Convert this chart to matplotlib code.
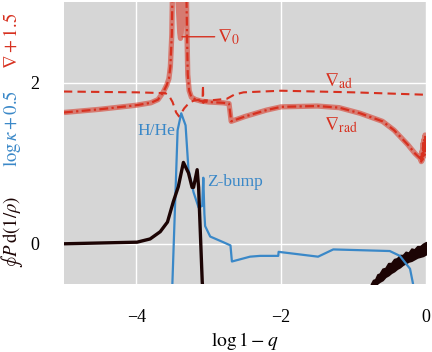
import matplotlib
matplotlib.use("Agg")
import matplotlib.pyplot as plt

plt.rcParams['font.family'] = ['Liberation Serif', 'DejaVu Serif']
plt.rcParams['mathtext.fontset'] = 'stix'

# --- data ---
# nabla_rad + 1.5
rad_x = [-5.0, -4.5, -4.0, -3.8, -3.7, -3.63, -3.58, -3.55, -3.53, -3.51, -3.50, -3.47, -3.40,
         -3.34, -3.31, -3.30, -3.29, -3.27, -3.24, -3.18, -3.1, -3.0, -2.8, -2.72, -2.69,
         -2.5, -2.2, -2.0, -1.5, -1.2, -0.91, -0.6, -0.44, -0.25, -0.15, -0.08,
         -0.07, -0.065, -0.055, -0.05, -0.04, -0.035, -0.025, -0.02, -0.012, -0.006, 0.0]
rad_y = [1.63, 1.67, 1.72, 1.75, 1.79, 1.88, 1.97, 2.05, 2.2, 2.6, 3.2, 4.2, 5.0,
         4.2, 3.2, 2.6, 2.1, 1.9, 1.82, 1.79, 1.77, 1.76, 1.75, 1.74, 1.52,
         1.58, 1.66, 1.70, 1.71, 1.69, 1.62, 1.52, 1.41, 1.23, 1.12, 1.06,
         1.10, 1.02, 1.15, 1.04, 1.25, 1.08, 1.30, 1.10, 1.35, 1.15, 1.35]

# nabla_0 + 1.5 (differs from nabla_rad only inside the peak)
n0_x = [-5.0, -4.5, -4.0, -3.8, -3.7, -3.63, -3.58, -3.55, -3.53, -3.51, -3.50, -3.46, -3.43,
        -3.40, -3.39, -3.38, -3.35, -3.33, -3.31, -3.30, -3.29, -3.27, -3.24, -3.18, -3.1,
        -3.0, -2.8, -2.72, -2.69, -2.5, -2.2, -2.0, -1.5, -1.2, -0.91, -0.6, -0.44, -0.25,
        -0.15, -0.08, -0.07, -0.065, -0.055, -0.05, -0.04, -0.035, -0.025, -0.02, -0.012,
        -0.006, 0.0]
n0_y = [1.63, 1.67, 1.72, 1.75, 1.79, 1.88, 1.97, 2.05, 2.2, 2.6, 3.2, 3.6, 3.1,
        2.62, 2.55, 2.62, 3.1, 3.6, 3.2, 2.6, 2.1, 1.9, 1.82, 1.79, 1.77,
        1.76, 1.75, 1.74, 1.52, 1.58, 1.66, 1.70, 1.71, 1.69, 1.62, 1.52, 1.41, 1.23,
        1.12, 1.06, 1.10, 1.02, 1.15, 1.04, 1.25, 1.08, 1.30, 1.10, 1.35,
        1.15, 1.35]

# nabla_ad + 1.5
ad_x = [-5.0, -4.0, -3.6, -3.55, -3.5, -3.45, -3.41, -3.38, -3.34, -3.30, -3.25, -3.2,
        -3.1, -3.085, -3.08, -3.075, -3.06, -2.98, -2.75, -2.65, -2.52, -2.0, -1.0, 0.0]
ad_y = [1.89, 1.88, 1.87, 1.84, 1.76, 1.63, 1.58, 1.62, 1.68, 1.72, 1.76, 1.78,
        1.79, 1.80, 1.97, 1.75, 1.78, 1.78, 1.80, 1.85, 1.88, 1.90, 1.88, 1.85]

# log kappa + 0.5
kap_x = [-3.51, -3.43, -3.38, -3.32, -3.28, -3.21, -3.14, -3.09, -3.075, -3.06, -3.05,
         -2.98, -2.80, -2.70, -2.68, -2.43, -2.29, -2.04, -2.035, -1.49, -1.28, -0.50,
         -0.36, -0.22, -0.18, -0.16]
kap_y = [-0.7, 1.41, 1.62, 1.47, 0.92, 0.64, 0.45, 0.47, 0.82, 0.37, 0.22,
         0.09, 0.02, -0.02, -0.22, -0.16, -0.15, -0.15, -0.10, -0.16, -0.07, -0.09,
         -0.15, -0.31, -0.49, -0.6]

# closed-loop integral of P d(1/rho)
pdv_x = [-5.0, -3.99, -3.81, -3.67, -3.57, -3.49, -3.42, -3.35, -3.28, -3.23, -3.21,
         -3.16, -3.14, -3.09, -3.08]
pdv_y = [0.0, 0.02, 0.06, 0.15, 0.27, 0.52, 0.71, 1.01, 0.88, 0.70, 0.70,
         0.92, 0.70, -0.47, -0.6]
# noisy surface part of the work integral: envelope of the scatter
pdv2_x = [-0.76, -0.73, -0.70, -0.67, -0.64, -0.60, -0.56, -0.52, -0.48, -0.44, -0.40,
          -0.36, -0.32, -0.28, -0.24, -0.20, -0.16, -0.12, -0.08, -0.04, 0.0]
pdv2_lo = [-0.53, -0.53, -0.52, -0.49, -0.47, -0.45, -0.41, -0.39, -0.36, -0.34, -0.31,
           -0.29, -0.26, -0.24, -0.22, -0.21, -0.19, -0.17, -0.16, -0.15, -0.13]
pdv2_hi = [-0.50, -0.45, -0.44, -0.38, -0.37, -0.31, -0.30, -0.24, -0.24, -0.19, -0.18,
           -0.14, -0.14, -0.10, -0.11, -0.06, -0.07, -0.03, -0.03, 0.0, 0.02]

xticks = [-4, -2, 0]
yticks = [0, 2]

RED = '#d7301f'
BLUE = '#3a88c8'
BLACK = '#1c0404'

fig = plt.figure(figsize=(4.32, 3.52), dpi=100)
ax = fig.add_axes([0.148, 0.193, 0.838, 0.801])
ax.set_facecolor('#d6d6d6')
for s in ax.spines.values():
    s.set_visible(False)
ax.grid(True, color='white', lw=1.0)
ax.set_axisbelow(True)

ax.plot(n0_x, n0_y, color=RED, lw=3.8, alpha=0.55, solid_capstyle='butt')
ax.plot(rad_x, rad_y, color=RED, lw=1.6, linestyle=(0, (4, 1.5, 1, 1.5)))
ax.plot(ad_x, ad_y, color=RED, lw=1.5, linestyle=(0, (4, 2.5)))
ax.plot(kap_x, kap_y, color=BLUE, lw=1.6)
ax.plot(pdv_x, pdv_y, color=BLACK, lw=2.4)
ax.fill_between(pdv2_x, pdv2_lo, pdv2_hi, color=BLACK, lw=1.2, edgecolor=BLACK)

ax.set_xlim(-5, 0)
ax.set_ylim(-0.5, 3)
ax.set_xticks(xticks)
ax.set_yticks(yticks)
ax.tick_params(length=0, labelsize=13)
ax.tick_params(axis='x', pad=18)
ax.tick_params(axis='y', pad=18)
ax.set_xlabel(r'$\log 1-q$', fontsize=14, labelpad=3)

ax.annotate(r'$\nabla_0$', xy=(-3.37, 2.57), xytext=(-2.88, 2.57), color=RED, fontsize=14,
            ha='left', va='center',
            arrowprops=dict(arrowstyle='-', color=RED, lw=1.0, shrinkA=0, shrinkB=0))
ax.text(-1.2, 2.02, r'$\nabla_{\rm ad}$', color=RED, fontsize=14, ha='center', va='center')
ax.text(-1.17, 1.47, r'$\nabla_{\rm rad}$', color=RED, fontsize=14, ha='center', va='center')
ax.text(-3.46, 1.40, 'H/He', color=BLUE, fontsize=12.5, ha='right', va='center')
ax.text(-3.02, 0.77, 'Z-bump', color=BLUE, fontsize=12.5, ha='left', va='center')

fig.text(0.027, 0.884, r'$\nabla+1.5$', color=RED, rotation=90, fontsize=13.5,
         ha='center', va='center')
fig.text(0.027, 0.636, r'$\log\kappa+0.5$', color=BLUE, rotation=90, fontsize=13.5,
         ha='center', va='center')
fig.text(0.027, 0.341, r'$\oint\, P\,\mathrm{d}(1/\rho)$', color=BLACK, rotation=90,
         fontsize=13.5, ha='center', va='center')

fig.savefig('out.png', dpi=100)
